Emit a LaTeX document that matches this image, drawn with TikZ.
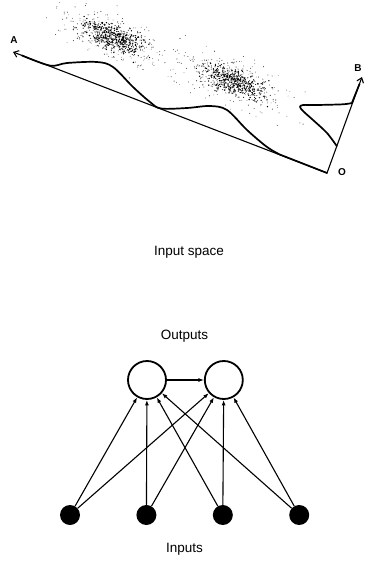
\documentclass[tikz,border=0pt]{standalone}
\usepackage{fontspec}
\setmainfont{Liberation Sans}
\usetikzlibrary{arrows.meta,positioning}

\begin{document}
\begin{tikzpicture}[x=1pt, y=-1pt,
  axis/.style={line width=1.1pt, -{Straight Barb[length=4.5pt,width=7pt]}},
  dens/.style={line width=1.7pt, line join=round, line cap=round},
  lbl/.style={font=\fontsize{10}{10}\selectfont\bfseries, inner sep=0pt},
  caption/.style={font=\fontsize{13.5}{14}\selectfont},
  unit/.style={circle, draw, line width=1.8pt, minimum size=38pt, inner sep=0pt},
  inp/.style={circle, fill, minimum size=20pt, inner sep=0pt},
  arr/.style={-{Latex[length=5.5pt,width=4pt]}, line width=1.1pt}]
\useasboundingbox (0,0) rectangle (367,564);

\pgfmathsetseed{4242}
\foreach \cx/\cy in {112/37, 234/82}{
  % dense core
  \foreach \i in {1,...,450}{
    \pgfmathsetmacro\u{(rand+rand+rand)*16}
    \pgfmathsetmacro\v{(rand+rand+rand)*6}
    \pgfmathsetmacro\r{0.45+0.35*rnd}
    \fill ({\cx+0.932*\u-0.362*\v},{\cy+0.362*\u+0.932*\v}) circle (\r pt);
  }
  % sparse halo
  \foreach \i in {1,...,300}{
    \pgfmathsetmacro\u{(rand+rand+rand)*30}
    \pgfmathsetmacro\v{(rand+rand+rand)*11}
    \pgfmathsetmacro\r{0.35+0.25*rnd}
    \fill[black!75] ({\cx+0.932*\u-0.362*\v},{\cy+0.362*\u+0.932*\v}) circle (\r pt);
  }
}

\coordinate (O) at (327,173);
\coordinate (A) at (13,52);
\coordinate (B) at (362,77);
\draw[axis] (O) -- (A);
\draw[axis] (O) -- (B);
\node[lbl] (la) at (14,40) {A};
\node[lbl] (lb) at (358,68) {B};
\node[lbl] (lo) at (342,172) {O};

\draw[dens] plot[smooth, tension=0.55] coordinates {(22,55.5) (50,65.6) (67,63) (97,62) (113,67) (133,87) (150,102) (161,108.5) (187,108) (210,106) (227,110) (247,130) (267,147) (280,154.6)} -- (O);
\draw[dens] plot[smooth, tension=0.5] coordinates {(336.7,146) (327,133) (313,120) (303.5,111.5) (300,107) (303,105) (317,105) (343,104.3) (351.9,103)} -- (359.5,84);

\node[caption] (sp) at (189,252) {Input space};

\node[unit] (o1) at (147,380) {};
\node[unit, right=37pt of o1] (o2) {};
\node[caption] (ol) at (184.5,336) {Outputs};

\node[inp] (i1) at (70,515) {};
\node[inp, right=56pt of i1] (i2) {};
\node[inp, right=56pt of i2] (i3) {};
\node[inp, right=56pt of i3] (i4) {};
\node[caption] (il) at (184.5,549) {Inputs};

\foreach \i in {1,...,4} \foreach \o in {1,2} \draw[arr] (i\i) -- (o\o);
\draw[arr] (o1) -- (o2);
\end{tikzpicture}
\end{document}
